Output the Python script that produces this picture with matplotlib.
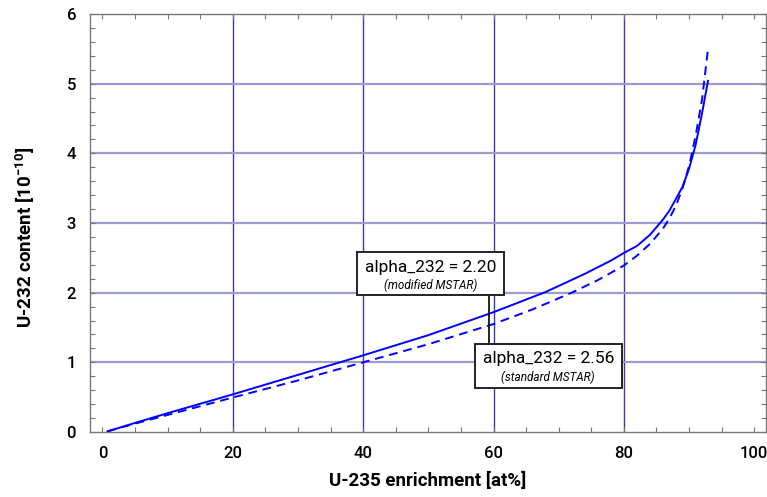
import matplotlib
matplotlib.use("Agg")
import matplotlib.pyplot as plt
from matplotlib.patches import Rectangle
from matplotlib.ticker import MultipleLocator

# Data
enrich_mod = [0.8, 5, 10, 20, 30, 40, 50, 60, 68, 74, 78, 80, 82, 84, 86, 87, 88, 89, 90, 91, 92, 92.9]
u232_mod = [0.01, 0.13, 0.27, 0.54, 0.82, 1.10, 1.39, 1.72, 2.01, 2.27, 2.46, 2.57, 2.67, 2.83, 3.05, 3.18, 3.35, 3.52, 3.78, 4.12, 4.58, 5.04]

enrich_std = [0.8, 5, 10, 20, 30, 40, 50, 60, 66, 72, 76, 80, 82, 84, 86, 87, 88, 89, 90, 91, 92, 92.9]
u232_std = [0.01, 0.12, 0.245, 0.495, 0.74, 1.00, 1.26, 1.55, 1.76, 2.00, 2.18, 2.39, 2.53, 2.70, 2.92, 3.07, 3.25, 3.50, 3.82, 4.25, 4.78, 5.50]

x_ticks = [0, 20, 40, 60, 80, 100]
y_ticks = [0, 1, 2, 3, 4, 5, 6]
label_mod = ["alpha_232 = 2.20", "(modified MSTAR)"]
label_std = ["alpha_232 = 2.56", "(standard MSTAR)"]

plt.rcParams['font.family'] = ['Roboto', 'DejaVu Sans']

fig = plt.figure(figsize=(7.67, 4.97), dpi=100)
ax = fig.add_axes([90/767, 1-432/497, (766-90)/767, (432-14)/497])

ax.set_xlim(-1.9, 101.8)
ax.set_ylim(0, 6)

# grid lines
for xv in [20, 40, 60, 80]:
    ax.axvline(xv, color='#3a3aa8', lw=1.0, zorder=1)
for yv in [1, 2, 3, 4, 5]:
    ax.axhline(yv, color='#9c9cd2', lw=1.6, zorder=1)

ax.plot(enrich_mod, u232_mod, color='#0000ff', lw=1.4, zorder=3)
ax.plot(enrich_std, u232_std, color='#0000ff', lw=1.4, ls=(0, (4.5, 3)), zorder=3)

ax.set_xticks(x_ticks)
ax.set_yticks(y_ticks)
ax.xaxis.set_minor_locator(MultipleLocator(5))
ax.yaxis.set_minor_locator(MultipleLocator(0.2))
ax.tick_params(which='both', direction='in', top=True, right=True, length=3.5,
               width=0.8, color='#777777')
ax.tick_params(which='major', labelsize=12, pad=10)
for lab in ax.get_xticklabels() + ax.get_yticklabels():
    lab.set_fontweight('medium')
for s in ax.spines.values():
    s.set_color('#777777')
    s.set_linewidth(1.0)

ax.set_xlabel("U-235 enrichment [at%]", fontsize=13.5, fontweight='bold', labelpad=8)
ax.set_ylabel(r"U-232 content [10$^{\mathregular{-10}}$]", fontsize=13.5, fontweight='bold')
ax.yaxis.set_label_coords(-0.078, 0.465)

# annotation boxes
ax.plot([59.3, 59.3], [1.96, 1.27], color='black', lw=1.2, zorder=4)
ax.add_patch(Rectangle((39.0, 1.96), 22.6, 0.62, facecolor='white', edgecolor='#222222', lw=1.4, zorder=5))
ax.add_patch(Rectangle((57.1, 0.63), 22.6, 0.64, facecolor='white', edgecolor='#222222', lw=1.4, zorder=5))
ax.text(50.3, 2.36, label_mod[0], ha='center', va='center', fontsize=12.5, zorder=6)
ax.text(50.3, 2.10, label_mod[1], ha='center', va='center', fontsize=8.5, style='italic', zorder=6)
ax.text(68.4, 1.05, label_std[0], ha='center', va='center', fontsize=12.5, zorder=6)
ax.text(68.4, 0.78, label_std[1], ha='center', va='center', fontsize=8.5, style='italic', zorder=6)

fig.savefig("out.png", dpi=100)
